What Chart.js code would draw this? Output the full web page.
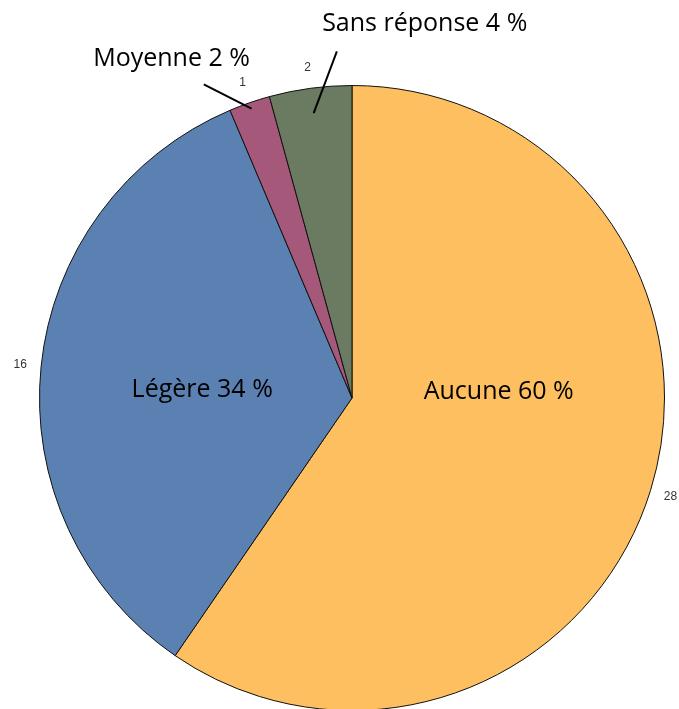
<!DOCTYPE html>
<html lang="fr">
<head>
<meta charset="utf-8">
<script src="https://cdn.jsdelivr.net/npm/chart.js@4/dist/chart.umd.min.js"></script>
<style>
  html, body { margin: 0; padding: 0; background: #fff; overflow: hidden; }
  #wrap { width: 679px; height: 720px; position: relative; }
</style>
</head>
<body>
<div id="wrap"><canvas id="pie"></canvas></div>
<script>
// Répartition des réponses (effectifs), sens horaire depuis midi
const categories = ['Aucune', 'Légère', 'Moyenne', 'Sans réponse'];
const counts = [28, 16, 1, 2];
const percents = [60, 34, 2, 4];
const colors = ['#fdbf5f', '#5b80b2', '#a5587a', '#6b7b62'];

// placement des étiquettes : angle (deg, 0 = 3 h, sens horaire), distance en rayons,
// et trait de rappel (angle de départ, rayon de départ, rayon d'arrivée sur la part)
const labelPos = [
  { a: -2.3, r: 0.47 },
  { a: 183, r: 0.48 },
  { a: 242, r: 1.23, lead: { a: 244.7, from: 1.11, to: 0.98 } },
  { a: 281, r: 1.22, lead: { a: 267.5, from: 1.11, to: 0.92 } }
];

const labels = {
  id: 'labels',
  afterDatasetsDraw(chart) {
    const ctx = chart.ctx;
    const meta = chart.getDatasetMeta(0);
    const rad = (d) => d * Math.PI / 180;
    ctx.save();
    ctx.textAlign = 'center';
    ctx.textBaseline = 'middle';
    meta.data.forEach((arc, i) => {
      const { x, y, startAngle, endAngle, outerRadius } = arc.getProps(['x', 'y', 'startAngle', 'endAngle', 'outerRadius'], true);
      const mid = (startAngle + endAngle) / 2;
      // effectif en petit, à l'extérieur
      ctx.fillStyle = '#333';
      ctx.font = '12px "Liberation Sans", Arial, sans-serif';
      const rc = outerRadius + 21;
      ctx.fillText(String(counts[i]), x + Math.cos(mid) * rc, y + Math.sin(mid) * rc);

      const p = labelPos[i];
      if (p.lead) {
        const la = rad(p.lead.a);
        ctx.strokeStyle = '#000';
        ctx.lineWidth = 2;
        ctx.beginPath();
        ctx.moveTo(x + Math.cos(la) * outerRadius * p.lead.from, y + Math.sin(la) * outerRadius * p.lead.from);
        ctx.lineTo(x + Math.cos(mid) * outerRadius * p.lead.to, y + Math.sin(mid) * outerRadius * p.lead.to);
        ctx.stroke();
      }
      const a = rad(p.a);
      ctx.fillStyle = '#000';
      ctx.font = '25px "Open Sans", sans-serif';
      ctx.fillText(categories[i] + ' ' + percents[i] + ' %', x + Math.cos(a) * outerRadius * p.r, y + Math.sin(a) * outerRadius * p.r);
    });
    ctx.restore();
  }
};

new Chart(document.getElementById('pie'), {
  type: 'pie',
  data: {
    labels: categories,
    datasets: [{ data: counts, backgroundColor: colors, borderColor: '#111', borderWidth: 1 }]
  },
  options: {
    responsive: true, maintainAspectRatio: false, animation: false,
    layout: { padding: { top: 85, left: 39, right: 14, bottom: 9 } },
    plugins: { legend: { display: false }, tooltip: { enabled: false } }
  },
  plugins: [labels]
});
</script>
</body>
</html>
